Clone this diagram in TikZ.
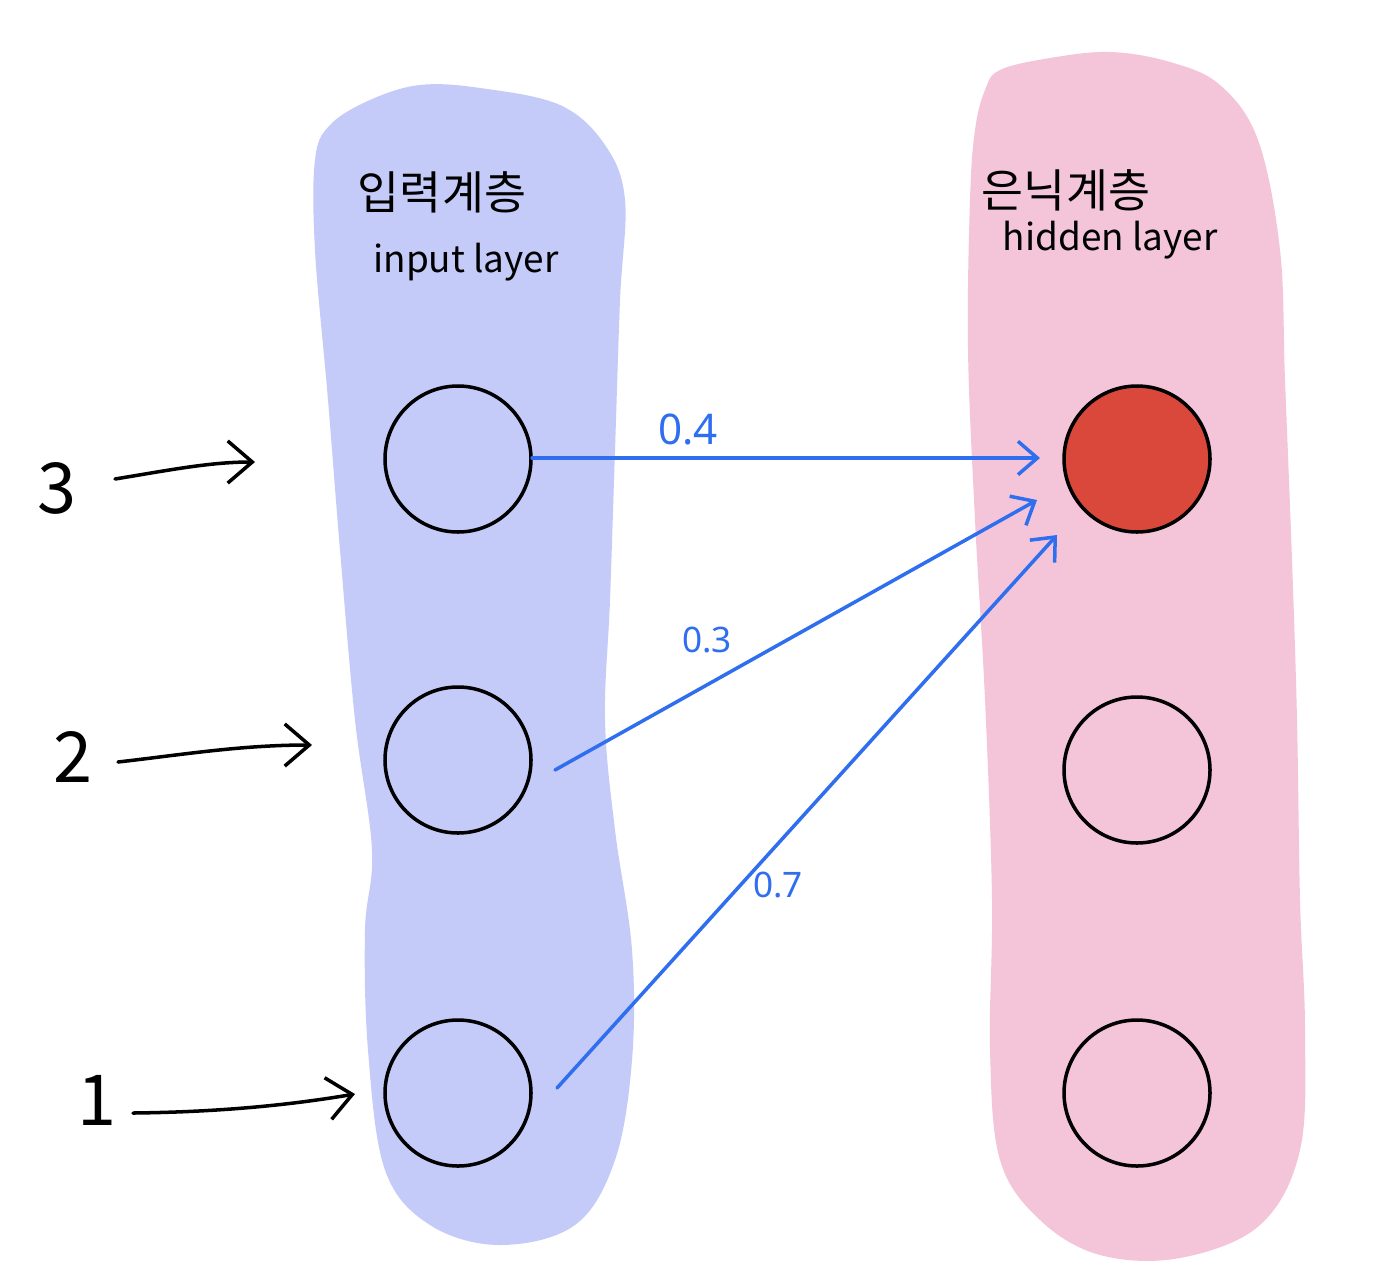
\documentclass[tikz,border=0pt]{standalone}
\usepackage{fontspec}
\setmainfont{Noto Sans}
\newfontfamily\kfont{Noto Sans CJK KR}
\usetikzlibrary{arrows.meta}
\definecolor{blobblue}{RGB}{196,203,249}
\definecolor{blobpink}{RGB}{244,197,216}
\definecolor{nodered}{RGB}{217,72,58}
\definecolor{wblue}{RGB}{47,111,239}
\tikzset{
  neuron/.style={circle, draw=black, line width=2pt, minimum size=146*0.02cm, inner sep=0pt},
  inarrow/.style={draw=black, line width=2pt, line cap=round, -{Straight Barb[length=14pt,width=24pt,line width=2pt]}},
  warrow/.style={draw=wblue, line width=2pt, line cap=round, -{Straight Barb[length=11pt,width=19pt,line width=2pt]}},
  wlabel/.style={text=wblue, font=\fontsize{20}{22}\selectfont},
  numlabel/.style={font=\fontsize{40}{44}\selectfont\kfont},
  headk/.style={font=\fontsize{26}{28}\selectfont\kfont},
  heade/.style={font=\fontsize{21}{24}\selectfont\kfont}
}
\begin{document}
\begin{tikzpicture}[x=0.02cm,y=-0.02cm]
\useasboundingbox[fill=white] (0,0) rectangle (1391,1281);
% blobs
\fill[blobblue] plot[smooth cycle, tension=0.6] coordinates {(330,125) (370,100) (420,85) (480,88) (560,105) (605,145) (625,200) (620,300) (615,450) (610,600) (605,720) (615,830) (632,950) (632,1060) (615,1160) (575,1225) (500,1245) (430,1225) (385,1170) (368,1050) (365,930) (372,850) (355,720) (340,550) (328,400) (315,250) (315,160)};
\fill[blobpink] plot[smooth cycle, tension=0.6] coordinates {(985,90) (1000,70) (1050,58) (1110,52) (1170,62) (1220,85) (1258,140) (1280,250) (1285,380) (1292,560) (1297,720) (1300,900) (1305,1030) (1300,1150) (1260,1225) (1180,1258) (1100,1255) (1040,1220) (1000,1160) (990,1050) (992,900) (985,700) (975,520) (968,350) (970,200) (975,130)};
% headers
\node[headk] (hin) at (442,192) {입력계층};
\node[heade] (ein) at (466,262) {input layer};
\node[headk] (hhid) at (1066,190) {은닉계층};
\node[heade] (ehid) at (1110,240) {hidden layer};
% neurons
\node[neuron] (i3) at (458,459) {};
\node[neuron] (i2) at (458,760) {};
\node[neuron] (i1) at (458,1093) {};
\node[neuron, fill=nodered] (h1) at (1137,459) {};
\node[neuron] (h2) at (1137,770) {};
\node[neuron] (h3) at (1137,1093) {};
% input numbers and arrows
\node[numlabel] (n3) at (57,488) {3};
\node[numlabel] (n2) at (73,757) {2};
\node[numlabel] (n1) at (97,1100) {1};
\coordinate (a3s) at (115,479); \coordinate (a3e) at (255,462);
\coordinate (a2s) at (118,762); \coordinate (a2e) at (312,745);
\coordinate (a1s) at (133,1113); \coordinate (a1e) at (355,1094);
\draw[inarrow] (a3s) .. controls (170,470) and (210,462) .. (a3e);
\draw[inarrow] (a2s) .. controls (180,755) and (240,745) .. (a2e);
\draw[inarrow] (a1s) .. controls (220,1112) and (290,1105) .. (a1e);
% weighted connections
\coordinate (w1s) at (532,458); \coordinate (w1e) at (1040,458);
\coordinate (w2s) at (555,770); \coordinate (w2e) at (1037,500);
\coordinate (w3s) at (557,1088); \coordinate (w3e) at (1057,535);
\draw[warrow] (w1s) -- (w1e);
\draw[warrow] (w2s) -- (w2e);
\draw[warrow] (w3s) -- (w3e);
\node[wlabel, font=\fontsize{24}{26}\selectfont] (l4) at (688,430) {0.4};
\node[wlabel] (l3) at (707,640) {0.3};
\node[wlabel] (l7) at (778,885) {0.7};
\end{tikzpicture}
\end{document}
